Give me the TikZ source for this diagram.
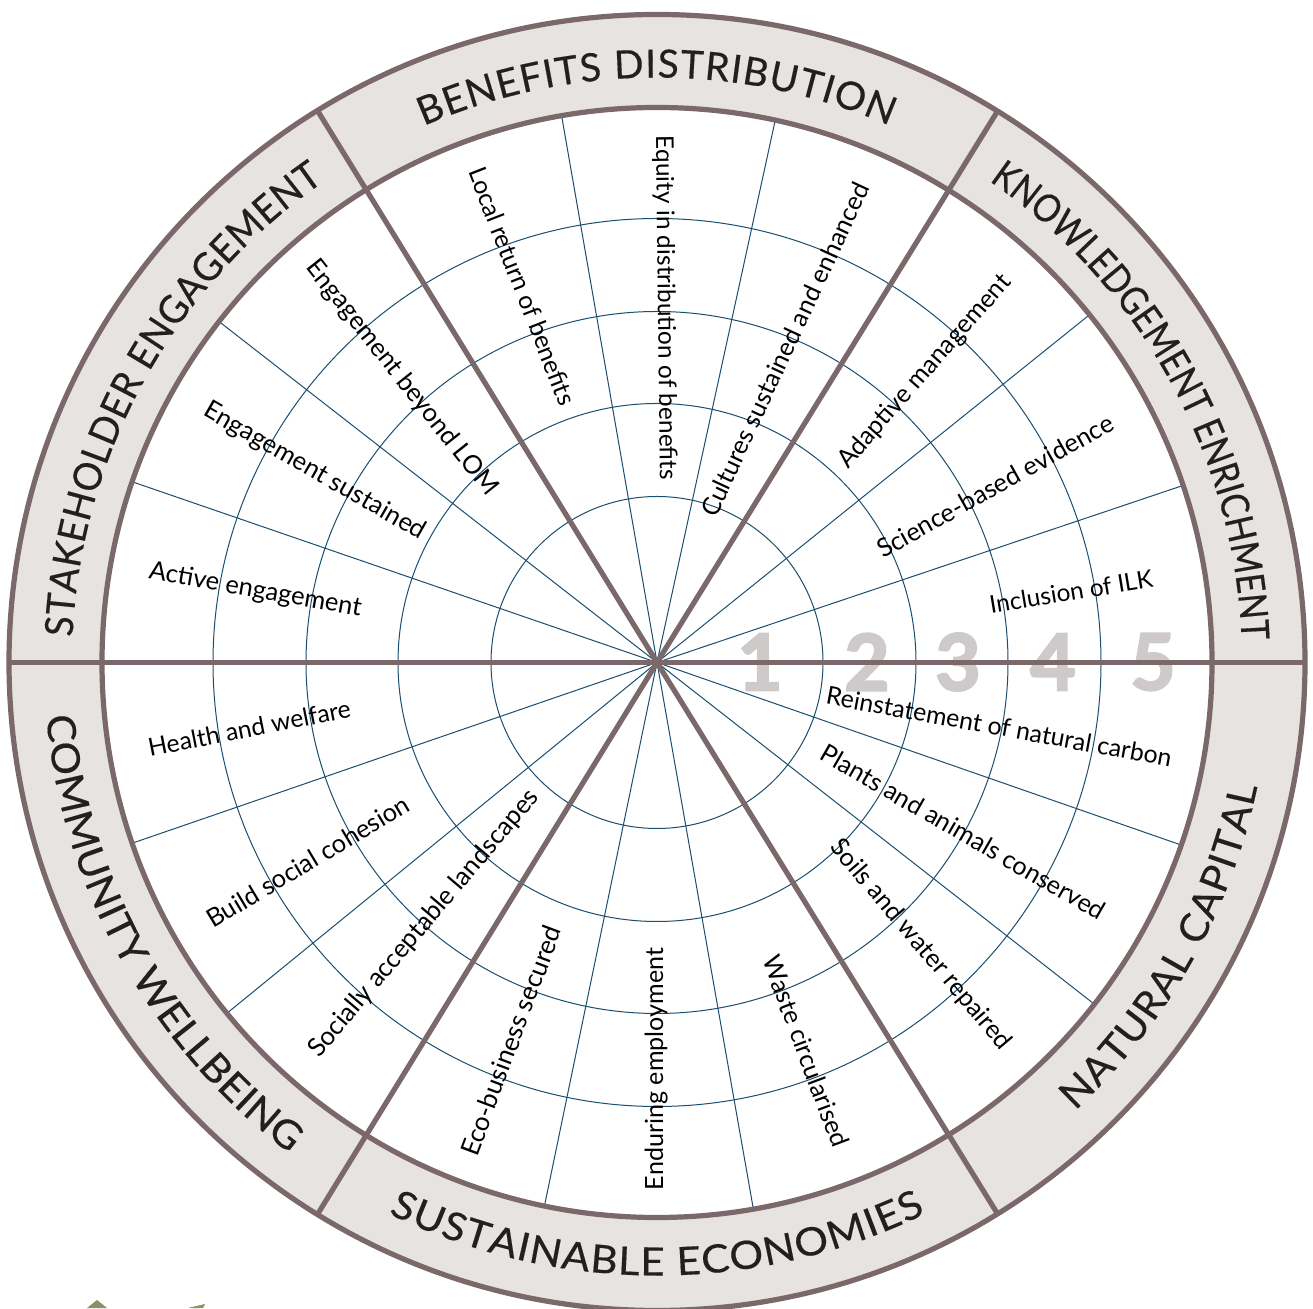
\documentclass[tikz,border=0pt]{standalone}
\usepackage{fontspec}
\setmainfont{Lato}
\usetikzlibrary{decorations.text,calc}
\definecolor{rimline}{HTML}{7A686A}
\definecolor{rimfill}{HTML}{E6E3E0}
\definecolor{webline}{HTML}{1B4F6F}
\definecolor{numgrey}{HTML}{CFCACA}
\definecolor{leaf}{HTML}{8A9162}
\definecolor{inktext}{HTML}{231F20}
\tikzset{
  x=1pt,y=1pt,
  rimstroke/.style={draw=rimline,line width=5.2pt},
  web/.style={draw=webline,line width=1pt},
  spoke/.style={draw=rimline,line width=5.2pt},
  itemlabel/.style={font=\fontsize{25}{30}\selectfont,text=black,inner sep=0pt,anchor=base},
  numeral/.style={font=\fontsize{78}{80}\selectfont\bfseries\addfontfeature{FakeBold=3},text=numgrey,inner sep=0pt,anchor=center},
}
\newcommand{\lab}[6]{%
  \pgfmathsetmacro{\labang}{atan2(#3-#5,#4-#2)}%
  \pgfmathsetmacro{\lablen}{veclen(#4-#2,#5-#3)}%
  \node[itemlabel,rotate=\labang] (#1) at ({(#2+#4)/2},{1308-(#3+#5)/2}) {\resizebox{\lablen pt}{!}{#6}};}
\newcommand{\rimtext}[5]{%
  \path[decorate,decoration={text along path,text align={fit to path},text color=inktext,
    text={|\fontsize{39}{44}\selectfont\addfontfeature{FakeStretch=#5,FakeBold=0.4}|#4}}]
    ($(C)+(#1:#3)$) arc[start angle=#1,end angle=#2,radius=#3];}
\begin{document}
\begin{tikzpicture}
\useasboundingbox (0,0) rectangle (1313,1308);
\fill[white] (0,0) rectangle (1313,1308);
\coordinate (C) at (657,645.5);
% rim
\fill[rimfill,even odd rule] (C) circle[radius=648] (C) circle[radius=555];
% leaf fragments
\fill[leaf] (97,8) -- (87,0) -- (107,0) -- cycle;
\fill[leaf] (188,0) -- (205,4) -- (203,0) -- cycle;
% rings
\foreach \r in {166,259,351,444} \draw[web] (C) circle[radius=\r];
% thin spokes
\foreach \a in {99.9,77.7,38.8,18.6,-19.2,-38,-80,-101.7,219.2,199,161,142.1}
  \draw[web] (C) -- ($(C)+(\a:555)$);
% numerals
\node[numeral] (n1) at (760,646) {1};
\node[numeral] (n2) at (867,646) {2};
\node[numeral] (n3) at (958,646) {3};
\node[numeral] (n4) at (1053,646) {4};
\node[numeral] (n5) at (1153,646) {5};
% thick spokes
\foreach \a in {0,180,58.3,121.6,-58.3,238.4}
  \draw[spoke] (C) -- ($(C)+(\a:648)$);
\draw[rimstroke] (C) circle[radius=555];
\draw[rimstroke] (C) circle[radius=648];
% rim titles
\rimtext{113.5}{66.6}{585}{BENEFITS DISTRIBUTION}{1.0}
\rimtext{55.4}{2.2}{585}{KNOWLEDGEMENT ENRICHMENT}{0.86}
\rimtext{-47}{-11.7}{613}{NATURAL CAPITAL}{1.05}
\rimtext{244}{296}{613}{SUSTAINABLE ECONOMIES}{1.08}
\rimtext{185}{233.2}{613}{COMMUNITY WELLBEING}{1.07}
\rimtext{177.5}{124.7}{585}{STAKEHOLDER ENGAGEMENT}{0.95}
% item labels
\lab{a1}{991}{614}{1154}{587}{Inclusion of ILK}
\lab{a2}{883}{559}{1116}{429}{Science-based evidence}
\lab{a3}{848}{470}{1012}{283}{Adaptive management}
\lab{a4}{716}{519}{870}{188}{Cultures sustained and enhanced}
\lab{a5}{656}{136}{660}{480}{Equity in distribution of benefits}
\lab{a6}{468}{172}{560}{407}{Local return of benefits}
\lab{a7}{305}{268}{487}{497}{Engagement beyond LOM}
\lab{a8}{202}{415}{420}{540}{Engagement sustained}
\lab{a9}{148}{579}{360}{616}{Active engagement}
\lab{a10}{150}{757}{352}{717}{Health and welfare}
\lab{a11}{213}{929}{412}{810}{Build social cohesion}
\lab{a12}{319}{1059}{540}{798}{Socially acceptable landscapes}
\lab{a13}{477}{1158}{562}{930}{Eco-business secured}
\lab{a14}{663}{1190}{663}{948}{Enduring employment}
\lab{a15}{762}{960}{833}{1149}{Waste circularised}
\lab{a16}{829}{848}{1001}{1051}{Soils and water repaired}
\lab{a17}{818}{759}{1099}{921}{Plants and animals conserved}
\lab{a18}{825}{704}{1170}{767}{Reinstatement of natural carbon}
\end{tikzpicture}
\end{document}
